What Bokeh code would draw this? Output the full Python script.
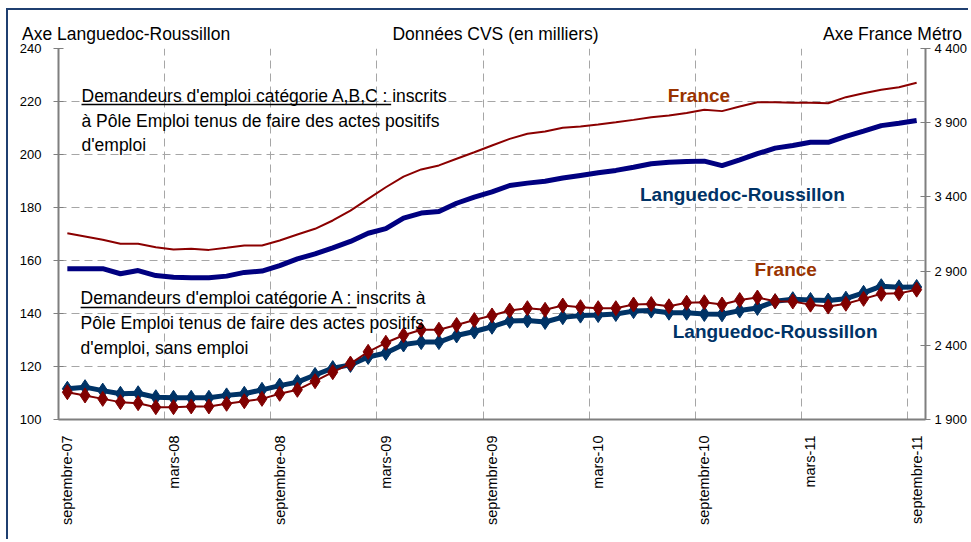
import math
from bokeh.plotting import figure
from bokeh.models import Range1d, LinearAxis, FixedTicker, Label
from bokeh.embed import file_html
from bokeh.resources import INLINE

# ---- data (monthly, septembre-07 .. septembre-11) ----
months = list(range(49))
tick_pos = [0, 6, 12, 18, 24, 30, 36, 42, 48]
tick_labels = ["septembre-07", "mars-08", "septembre-08", "mars-09", "septembre-09",
               "mars-10", "septembre-10", "mars-11", "septembre-11"]

# Languedoc-Roussillon, catégorie A,B,C (left axis)
lr_abc = [156.9, 156.9, 156.9, 155.0, 156.2, 154.3, 153.7, 153.5, 153.5, 154.1,
          155.5, 156.0, 158.1, 160.6, 162.5, 164.8, 167.2, 170.3, 172.0, 176.0,
          177.9, 178.5, 181.6, 183.9, 185.9, 188.3, 189.2, 189.9, 191.1, 192.1,
          193.1, 194.0, 195.2, 196.5, 197.1, 197.4, 197.5, 195.8, 198.0, 200.3,
          202.4, 203.4, 204.6, 204.6, 206.8, 208.8, 210.9, 211.8, 212.8]
# France métro, catégorie A,B,C (right axis)
fr_abc = [3155, 3133, 3111, 3084, 3084, 3061, 3046, 3050, 3043, 3057,
          3073, 3073, 3106, 3147, 3185, 3241, 3308, 3387, 3465, 3537,
          3585, 3612, 3657, 3701, 3746, 3791, 3825, 3841, 3866, 3874,
          3888, 3903, 3919, 3937, 3949, 3966, 3987, 3978, 4009, 4038,
          4038, 4034, 4034, 4031, 4072, 4099, 4122, 4139, 4169]
# Languedoc-Roussillon, catégorie A (left axis)
lr_a = [111.6, 112.2, 110.9, 109.7, 109.9, 108.4, 108.2, 108.2, 108.2, 109.1,
        109.7, 111.2, 112.8, 114.1, 116.8, 119.4, 120.6, 123.6, 125.1, 128.3,
        129.2, 129.2, 131.7, 133.2, 135.0, 137.2, 137.4, 136.8, 138.6, 139.2,
        139.4, 139.8, 140.9, 141.1, 140.3, 140.3, 139.8, 139.7, 141.1, 142.1,
        144.6, 145.4, 145.1, 144.9, 145.6, 147.8, 150.3, 149.9, 150.0]
# France métro, catégorie A (right axis)
fr_a = [2084, 2062, 2039, 2017, 2010, 1983, 1983, 1988, 1988, 2006,
        2023, 2039, 2073, 2100, 2158, 2219, 2277, 2356, 2417, 2468,
        2505, 2505, 2537, 2570, 2601, 2634, 2650, 2639, 2668, 2657,
        2650, 2650, 2675, 2678, 2663, 2687, 2690, 2675, 2705, 2722,
        2697, 2695, 2674, 2661, 2680, 2713, 2747, 2750, 2775]

left_ticks = [100, 120, 140, 160, 180, 200, 220, 240]
right_ticks = [1900, 2400, 2900, 3400, 3900, 4400]
right_labels = ["1 900", "2 400", "2 900", "3 400", "3 900", "4 400"]

# header texts (placed on a tick-less axis above the frame, positions in 1/1000 of frame width)
header_pos = [78, 504, 962]
header_texts = ["Axe Languedoc-Roussillon", "Données CVS (en milliers)", "Axe France Métro"]

FONT = "Liberation Sans"
NAVY = "#000080"
NAVY2 = "#003366"
RED = "#8B0000"
RED2 = "#800000"
GRID = "#A6A6A6"
AXIS = "#7F7F7F"

p = figure(width=962, height=531, output_backend="svg", toolbar_location=None,
           x_range=Range1d(-0.5, 48.5), y_range=Range1d(100, 240),
           min_border_left=50, min_border_right=40, min_border_top=38,
           min_border_bottom=122, background_fill_color="white",
           border_fill_color="white")
p.styles = {"margin-left": "6px", "margin-top": "8px",
            "border-left": "2px solid #1F3F70", "border-top": "2px solid #1F3F70"}
p.outline_line_color = None
p.extra_y_ranges = {"fr": Range1d(1900, 4400)}
p.extra_x_ranges = {"hdr": Range1d(0, 1000)}

yl = p.left[0]
xa = p.below[0]

# left axis
yl.ticker = FixedTicker(ticks=left_ticks)
yl.axis_line_color = AXIS
yl.axis_line_width = 2
yl.major_tick_line_color = AXIS
yl.major_tick_in = 5
yl.major_tick_out = 5
yl.minor_tick_line_color = None
yl.major_label_standoff = 12
yl.major_label_text_font = FONT
yl.major_label_text_font_size = "13px"
yl.major_label_text_color = "black"

# bottom axis
xa.ticker = FixedTicker(ticks=tick_pos)
xa.major_label_overrides = dict(zip(tick_pos, tick_labels))
xa.major_label_orientation = math.pi / 2
xa.axis_line_color = AXIS
xa.axis_line_width = 2
xa.major_tick_line_color = None
xa.minor_tick_line_color = None
xa.major_label_standoff = 10
xa.major_label_text_font = FONT
xa.major_label_text_font_size = "14.5px"
xa.major_label_text_color = "black"

# right axis (France métro)
yr = LinearAxis(y_range_name="fr", ticker=FixedTicker(ticks=right_ticks),
                major_label_overrides=dict(zip(right_ticks, right_labels)))
yr.axis_line_color = AXIS
yr.axis_line_width = 2
yr.major_tick_line_color = AXIS
yr.major_tick_in = 5
yr.major_tick_out = 5
yr.minor_tick_line_color = None
yr.major_label_standoff = 4
yr.major_label_text_font = FONT
yr.major_label_text_font_size = "13px"
yr.major_label_text_color = "black"
p.add_layout(yr, "right")

# header "axis" above
hd = LinearAxis(x_range_name="hdr", ticker=FixedTicker(ticks=header_pos),
                major_label_overrides=dict(zip(header_pos, header_texts)))
hd.axis_line_color = None
hd.major_tick_line_color = None
hd.minor_tick_line_color = None
hd.major_tick_out = 0
hd.major_tick_in = 0
hd.major_label_standoff = 5
hd.major_label_text_font = FONT
hd.major_label_text_font_size = "17.5px"
hd.major_label_text_color = "black"
p.add_layout(hd, "above")

# grids (dashed)
p.xgrid.ticker = FixedTicker(ticks=[t - 0.5 for t in tick_pos[1:]])
p.ygrid.ticker = FixedTicker(ticks=left_ticks)
for g in (p.xgrid[0], p.ygrid[0]):
    g.grid_line_color = GRID
    g.grid_line_dash = "8 5"
    g.grid_line_width = 1

# series
p.line(months, lr_abc, line_color=NAVY, line_width=5)
p.line(months, fr_abc, line_color=RED, line_width=2, y_range_name="fr")
p.line(months, lr_a, line_color=NAVY2, line_width=5)
p.scatter(months, lr_a, marker="diamond", size=15, color=NAVY2)
p.line(months, fr_a, line_color=RED2, line_width=2, y_range_name="fr")
p.scatter(months, fr_a, marker="diamond", size=15, color=RED2, y_range_name="fr")


def lab(x, y, text, size="17.5px", align="left", color="black", style="normal"):
    p.add_layout(Label(x=x, y=y, text=text, text_font=FONT, text_font_size=size,
                       text_align=align, text_baseline="middle",
                       text_color=color, text_font_style=style))


# explanatory text blocks
lab(0.8, 222.1, "Demandeurs d'emploi catégorie A,B,C : inscrits")
lab(0.8, 212.6, "à Pôle Emploi tenus de faire des actes positifs")
lab(0.8, 203.6, "d'emploi")
lab(0.75, 145.8, "Demandeurs d'emploi catégorie A : inscrits à")
lab(0.75, 136.4, "Pôle Emploi tenus de faire des actes positifs")
lab(0.75, 127.0, "d'emploi, sans emploi")
p.segment(x0=[0.8, 0.75], y0=[218.9, 142.3], x1=[18.3, 16.35], y1=[218.9, 142.3],
          line_color="black", line_width=1.5)

# series labels
lab(35.7, 222.3, "France", size="19px", align="center", color="#993300", style="bold")
lab(38.15, 184.9, "Languedoc-Roussillon", size="19px", align="center", color=NAVY2, style="bold")
lab(40.6, 156.6, "France", size="19px", align="center", color="#993300", style="bold")
lab(40.0, 133.2, "Languedoc-Roussillon", size="19px", align="center", color=NAVY2, style="bold")

open("out.html", "w").write(file_html(p, INLINE))
